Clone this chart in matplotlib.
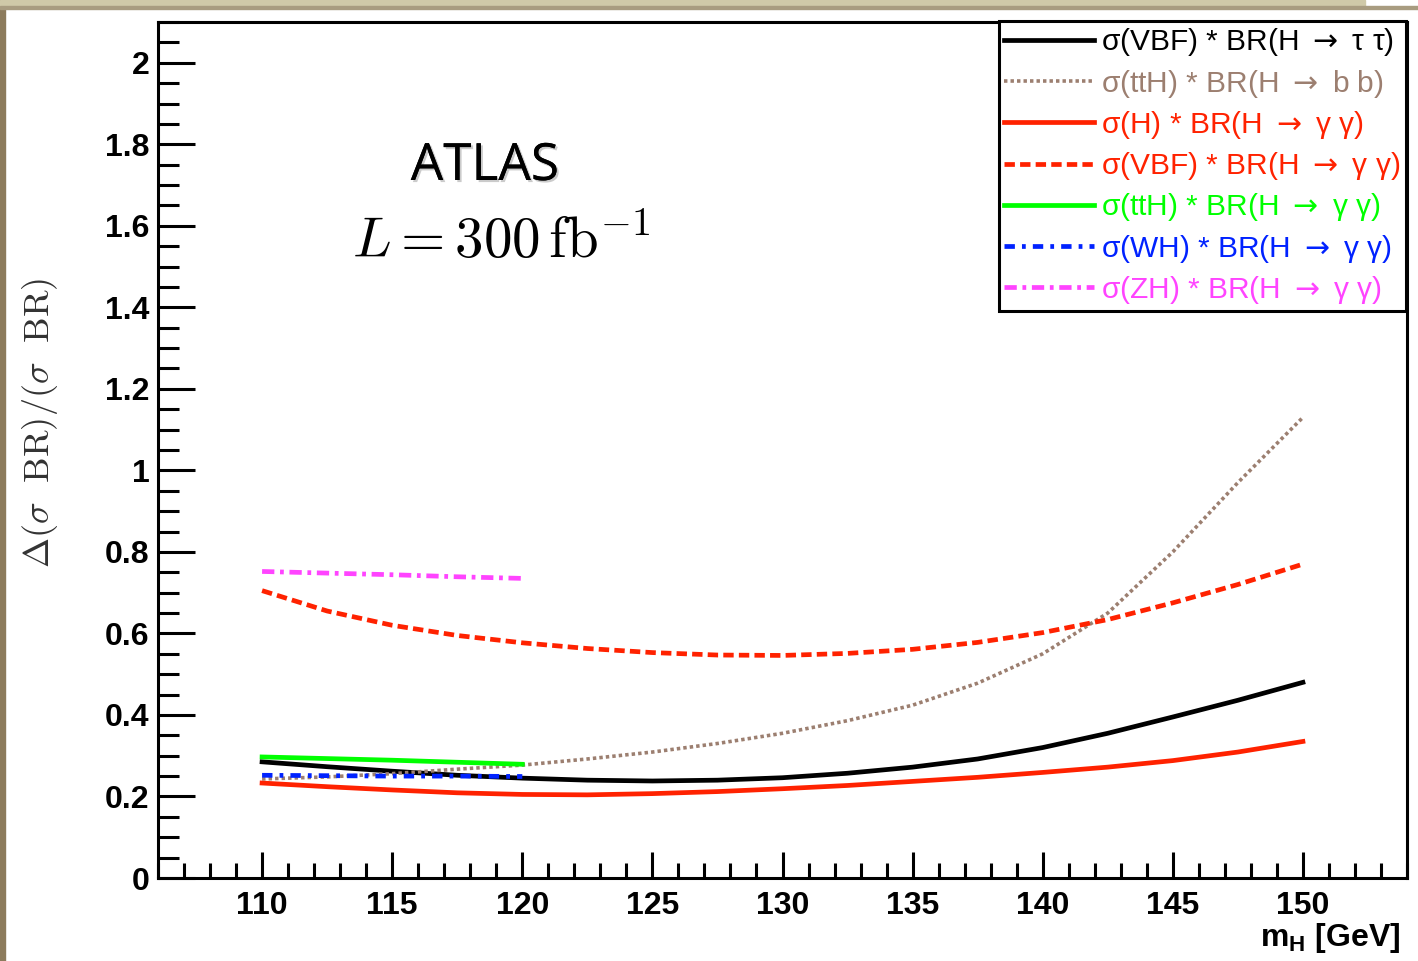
import matplotlib
matplotlib.use('Agg')
import matplotlib.pyplot as plt
import matplotlib.patheffects as pe
from matplotlib.patches import Rectangle
from matplotlib.font_manager import FontProperties
from matplotlib.ticker import MultipleLocator, FormatStrFormatter

plt.rcParams.update({
    'font.family': ['Liberation Sans', 'DejaVu Sans'],
    'mathtext.fontset': 'custom',
    'mathtext.rm': 'Liberation Sans',
    'mathtext.bf': 'Liberation Sans:bold',
    'mathtext.it': 'Liberation Sans:italic',
})

# masses (GeV)
m_full = [110, 112.5, 115, 117.5, 120, 122.5, 125, 127.5, 130, 132.5, 135,
          137.5, 140, 142.5, 145, 147.5, 150]
m_low = [110, 112.5, 115, 117.5, 120]

vbf_tautau = [0.285, 0.273, 0.262, 0.252, 0.245, 0.240, 0.238, 0.240, 0.246,
              0.257, 0.272, 0.292, 0.320, 0.355, 0.395, 0.436, 0.480]
tth_bb = [0.243, 0.248, 0.256, 0.267, 0.277, 0.292, 0.309, 0.330, 0.355,
          0.386, 0.424, 0.478, 0.550, 0.650, 0.800, 0.970, 1.130]
h_gg = [0.233, 0.224, 0.216, 0.209, 0.205, 0.204, 0.207, 0.212, 0.219, 0.227,
        0.237, 0.247, 0.259, 0.272, 0.288, 0.309, 0.335]
vbf_gg = [0.705, 0.655, 0.620, 0.595, 0.577, 0.563, 0.553, 0.547, 0.546,
          0.551, 0.561, 0.578, 0.602, 0.634, 0.675, 0.720, 0.770]
tth_gg = [0.297, 0.293, 0.289, 0.284, 0.279]
wh_gg = [0.252, 0.251, 0.250, 0.250, 0.249]
zh_gg = [0.752, 0.748, 0.744, 0.739, 0.735]

labels = [
    r'σ(VBF) * BR(H $\rightarrow$ τ τ)',
    r'σ(ttH) * BR(H $\rightarrow$ b b)',
    r'σ(H) * BR(H $\rightarrow$ γ γ)',
    r'σ(VBF) * BR(H $\rightarrow$ γ γ)',
    r'σ(ttH) * BR(H $\rightarrow$ γ γ)',
    r'σ(WH) * BR(H $\rightarrow$ γ γ)',
    r'σ(ZH) * BR(H $\rightarrow$ γ γ)',
]

W, H = 1418, 961
fig = plt.figure(figsize=(W / 100, H / 100), dpi=100)
fig.patch.set_facecolor('white')

# outer window frame
fig.patches.append(Rectangle((0, 0), 5 / W, 1, transform=fig.transFigure,
                             color='#8c7b5c', zorder=0))
fig.patches.append(Rectangle((0, 1 - 6 / H), 1365 / W, 6 / H, transform=fig.transFigure,
                             color='#cfc9a8', zorder=0))
fig.patches.append(Rectangle((0, 1 - 9 / H), 1, 3 / H, transform=fig.transFigure,
                             color='#a89c80', zorder=0))

ax = fig.add_axes([158 / W, 1 - 878 / H, (1407 - 158) / W, (878 - 22) / H])

lw = 3.4
ax.plot(m_full, vbf_tautau, color='black', lw=lw, label=labels[0])
ax.plot(m_full, tth_bb, color='#9c7f70', lw=2.6, ls=(0, (0.95, 0.85)), label=labels[1])
ax.plot(m_full, h_gg, color='#ff2200', lw=lw, label=labels[2])
ax.plot(m_full, vbf_gg, color='#ff2200', lw=lw, ls=(0, (2.2, 1.1)), label=labels[3])
ax.plot(m_low, tth_gg, color='#00ff00', lw=lw, label=labels[4])
ax.plot(m_low, wh_gg, color='#0022ff', lw=lw, ls=(0, (2.2, 1.5, 0.8, 1.5)), label=labels[5])
ax.plot(m_low, zh_gg, color='#ff44ff', lw=lw, ls=(0, (2.6, 1.2, 0.8, 1.2)), label=labels[6])

ax.set_xlim(106, 154)
ax.set_ylim(0, 2.1)

for s in ax.spines.values():
    s.set_linewidth(2.2)

ax.xaxis.set_major_locator(MultipleLocator(5))
ax.xaxis.set_minor_locator(MultipleLocator(1))
ax.yaxis.set_major_locator(MultipleLocator(0.2))
ax.yaxis.set_minor_locator(MultipleLocator(0.05))
ax.yaxis.set_major_formatter(FormatStrFormatter('%g'))
ax.tick_params(axis='both', which='both', direction='in', width=2.2,
               top=False, right=False)
ax.tick_params(axis='y', which='major', length=26.6, pad=6)
ax.tick_params(axis='y', which='minor', length=15)
ax.tick_params(axis='x', which='major', length=18.7, pad=9)
ax.tick_params(axis='x', which='minor', length=10.8)
for t in ax.get_xticklabels() + ax.get_yticklabels():
    t.set_fontsize(23)
    t.set_fontweight('bold')

leg_font = FontProperties(family=['Liberation Sans', 'DejaVu Sans'], size=21.5,
                          math_fontfamily='dejavusans')
leg = ax.legend(loc='upper right', bbox_to_anchor=(1406 / W, 1 - 21 / H),
                bbox_transform=fig.transFigure, prop=leg_font, frameon=True,
                fancybox=False, framealpha=1, edgecolor='black',
                handlelength=3.0, handletextpad=0.25, borderpad=0.18,
                labelspacing=0.31, borderaxespad=0, labelcolor='linecolor')
leg.get_frame().set_linewidth(2.2)

fig.text(485 / W, 1 - 180 / H, 'ATLAS', family='Open Sans', fontsize=37,
         ha='center', va='baseline',
         path_effects=[pe.withSimplePatchShadow(offset=(1.5, -1.5), shadow_rgbFace='#999999', alpha=0.5),
                       pe.Normal()])
fig.text(501 / W, 1 - 258 / H, r'$L = 300\,\mathrm{fb}^{-1}$', math_fontfamily='cm',
         fontsize=41, ha='center', va='baseline')

fig.text(40 / W, 1 - 423 / H, r'$\Delta(\sigma\ \ \mathrm{BR})/(\sigma\ \ \mathrm{BR})$',
         math_fontfamily='cm', fontsize=26, rotation=90, ha='center', va='center',
         color='#333333')
fig.text(1400 / W, 1 - 946 / H, r'm$_\mathbf{H}$ [GeV]', fontsize=23,
         fontweight='bold', ha='right', va='baseline')

fig.savefig('out.png', dpi=100)
